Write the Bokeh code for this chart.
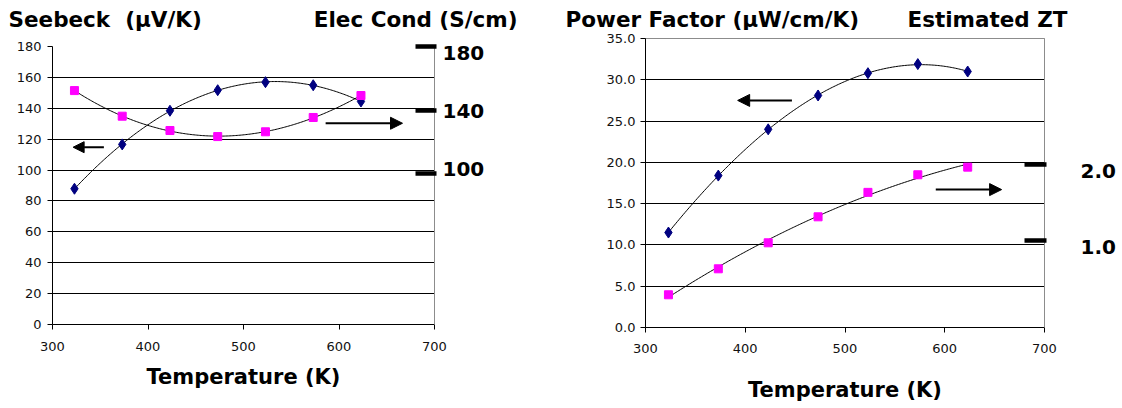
import numpy as np
from bokeh.plotting import figure
from bokeh.layouts import row, column
from bokeh.models import (Range1d, LinearAxis, FixedTicker, Arrow,
                          NormalHead, PrintfTickFormatter, CustomJSTickFormatter)
from bokeh.core.properties import value
from bokeh.embed import file_html
from bokeh.resources import INLINE

# ---------------- data ----------------
temperature = [323, 373, 423, 473, 523, 573, 623]          # K
seebeck = [87.9, 116.6, 138.4, 151.7, 156.9, 154.9, 144.4]  # uV/K
elec_cond = [152.3, 136.2, 127.2, 123.4, 126.4, 135.4, 149.2]  # S/cm
power_factor = [11.5, 18.4, 24.0, 28.1, 30.8, 31.9, 31.0]   # uW/cm/K
zt = [0.29, 0.63, 0.97, 1.31, 1.63, 1.86, 1.96]

x_ticks = [300, 400, 500, 600, 700]
seebeck_ticks = [0, 20, 40, 60, 80, 100, 120, 140, 160, 180]
cond_ticks = [100, 140, 180]
pf_ticks = [0, 5, 10, 15, 20, 25, 30, 35]
zt_ticks = [1.0, 2.0]

titles_left = ["Seebeck \u00a0(\u00b5V/K)", "Elec Cond (S/cm)"]
titles_right = ["Power Factor (\u00b5W/cm/K)", "Estimated ZT"]
x_title = "Temperature (K)"

FONT = "DejaVu Sans"
NAVY = "#000080"
PINK = "#FF00FF"
GRAY = "#8c8c8c"


def trend(xv, yv, deg=3):
    coef = np.polyfit(xv, yv, deg)
    xs = np.linspace(min(xv), max(xv), 200)
    return xs, np.polyval(coef, xs)


def header(width, height, texts, xs, aligns, y):
    h = figure(width=width, height=height, x_range=Range1d(0, width),
               y_range=Range1d(height, 0), min_border=0,
               x_axis_location=None, y_axis_location=None,
               toolbar_location=None, output_backend="svg")
    if "frame_align" in h.properties():
        h.frame_align = False
    h.grid.visible = False
    h.outline_line_color = None
    for t, x, a in zip(texts, xs, aligns):
        h.text(x=[x], y=[y], text=[t], text_font=value(FONT),
               text_font_style=value("bold"), text_font_size=value("21.5px"),
               text_align=value(a), text_baseline=value("middle"),
               text_color="black")
    return h


def base_figure(width, height, yr, left, right, top, bottom, outline):
    p = figure(width=width, height=height, x_range=Range1d(300, 700),
               y_range=Range1d(*yr), output_backend="svg",
               toolbar_location=None, min_border_left=left,
               min_border_right=right, min_border_top=top,
               min_border_bottom=bottom)
    p.outline_line_color = outline
    p.xgrid.visible = False
    p.ygrid.grid_line_color = "black"
    p.ygrid.grid_line_width = 1
    for ax in (p.xaxis[0], p.yaxis[0]):
        ax.axis_line_color = "black"
        ax.major_tick_line_color = "black"
        ax.major_tick_out = 5
        ax.major_tick_in = 0
        ax.minor_tick_line_color = None
        ax.major_label_text_font = FONT
        ax.major_label_text_font_size = "13px"
        ax.major_label_text_color = "#111111"
    p.xaxis.ticker = FixedTicker(ticks=x_ticks)
    p.xaxis.axis_label = x_title
    p.xaxis.axis_label_text_font = FONT
    p.xaxis.axis_label_text_font_style = "bold"
    p.xaxis.axis_label_text_font_size = "21px"
    p.xaxis.axis_label_text_color = "black"
    return p


def right_scale(p, tick_range, label_range, ticks, fmt, tick_in, standoff):
    # thick dashes on the plot border
    ax = LinearAxis(y_range_name=tick_range, ticker=FixedTicker(ticks=ticks),
                    major_tick_in=tick_in, major_tick_out=2,
                    major_tick_line_width=4.5, major_tick_line_color="black",
                    axis_line_color=GRAY, minor_tick_line_color=None,
                    major_label_standoff=0,
                    formatter=CustomJSTickFormatter(code="return ''"))
    p.add_layout(ax, "right")
    # large bold labels next to the dashes
    lab = LinearAxis(y_range_name=label_range, ticker=FixedTicker(ticks=ticks),
                     major_tick_in=0, major_tick_out=0,
                     major_tick_line_color=None, axis_line_color=None,
                     minor_tick_line_color=None, major_label_standoff=standoff,
                     formatter=PrintfTickFormatter(format=fmt),
                     major_label_text_font=FONT,
                     major_label_text_font_style="bold",
                     major_label_text_font_size="20px",
                     major_label_text_color="black")
    p.add_layout(lab, "right")


def arrow(p, x0, x1, y, size):
    p.add_layout(Arrow(end=NormalHead(size=size, line_color="black",
                                      fill_color="black", line_width=1),
                       x_start=x0, y_start=y, x_end=x1, y_end=y,
                       line_width=2, line_color="black"))


# ---------------- left chart: Seebeck / conductivity ----------------
h1 = header(558, 38, titles_left, [8, 517], ["left", "right"], 18.5)
p1 = base_figure(558, 362, (0, 180), 52, 124, 8, 76, None)
p1.extra_y_ranges = {"cond": Range1d(5.3, 180),
                     "cond_lab": Range1d(-7.0, 184.7)}
p1.yaxis.ticker = FixedTicker(ticks=seebeck_ticks)
p1.yaxis.major_label_standoff = 6
p1.xaxis.major_label_standoff = 12
p1.xaxis.axis_label_standoff = 11
p1.ygrid.ticker = FixedTicker(ticks=seebeck_ticks[:-1])
right_scale(p1, "cond", "cond_lab", cond_ticks, "%d", 19, 6)

xs, ys = trend(temperature, seebeck)
p1.line(xs, ys, line_color="black", line_width=1)
xs, ys = trend(temperature, elec_cond)
p1.line(xs, ys, line_color="black", line_width=1, y_range_name="cond")
p1.scatter(temperature, seebeck, marker="diamond", size=11,
           fill_color=NAVY, line_color=NAVY)
p1.scatter(temperature, elec_cond, marker="square", size=8,
           fill_color=PINK, line_color=PINK, y_range_name="cond")

arrow(p1, 353.8, 321.6, 114.8, 11)
arrow(p1, 586.0, 666.5, 130.3, 12)

# ---------------- right chart: power factor / ZT ----------------
h2 = header(560, 30, titles_right, [7, 509], ["left", "right"], 18.5)
p2 = base_figure(560, 374, (0, 35), 87, 74, 8, 76, GRAY)
p2.extra_y_ranges = {"zt": Range1d(-0.138, 3.643),
                     "zt_lab": Range1d(-0.047, 3.734)}
p2.yaxis.ticker = FixedTicker(ticks=pf_ticks)
p2.yaxis.formatter = PrintfTickFormatter(format="%.1f")
p2.yaxis.major_label_standoff = 5
p2.xaxis.major_label_standoff = 11
p2.xaxis.axis_label_standoff = 22
p2.ygrid.ticker = FixedTicker(ticks=pf_ticks[:-1])
right_scale(p2, "zt", "zt_lab", zt_ticks, "%.1f", 20, 34)

xs, ys = trend(temperature, power_factor)
p2.line(xs, ys, line_color="black", line_width=1)
xs, ys = trend(temperature, zt, deg=2)
p2.line(xs, ys, line_color="black", line_width=1, y_range_name="zt")
p2.scatter(temperature, power_factor, marker="diamond", size=11,
           fill_color=NAVY, line_color=NAVY)
p2.scatter(temperature, zt, marker="square", size=8,
           fill_color=PINK, line_color=PINK, y_range_name="zt")

arrow(p2, 446.8, 392.4, 27.5, 12)
arrow(p2, 591.0, 657.0, 16.7, 12)

layout = row(column(h1, p1), column(h2, p2))
open("out.html", "w").write(file_html(layout, INLINE))
